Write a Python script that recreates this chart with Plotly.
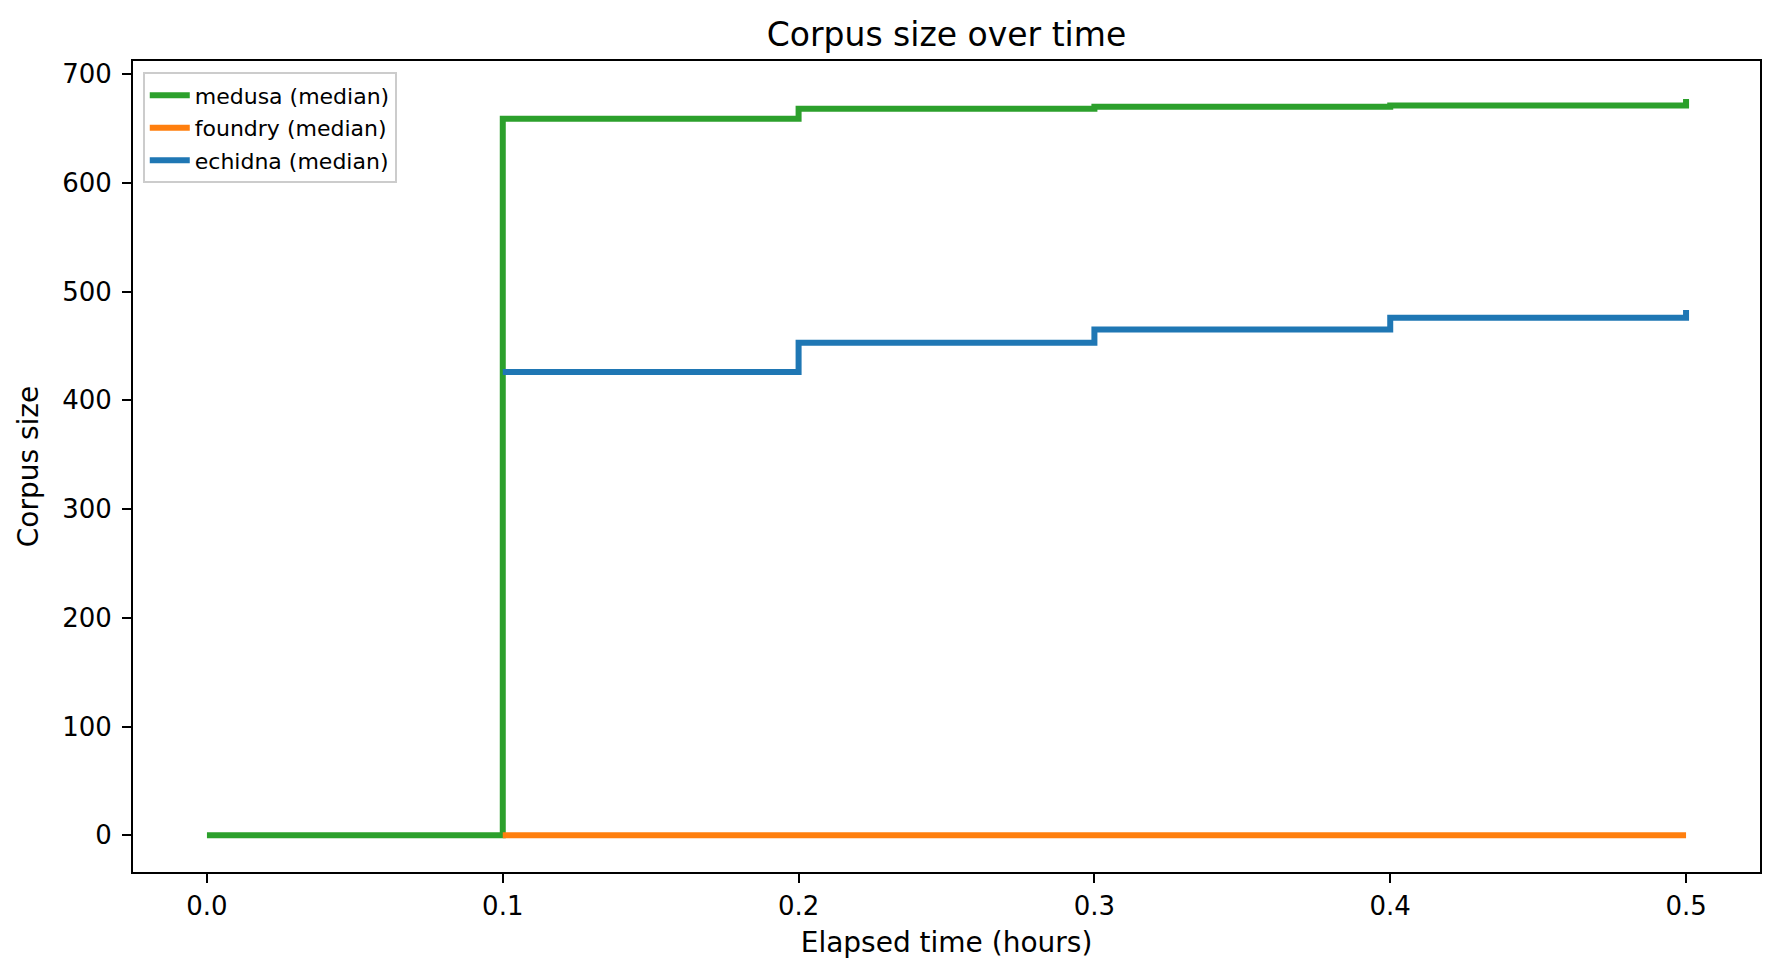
import plotly.graph_objects as go

# elapsed time in hours, corpus size (median per fuzzer)
medusa_hours = [0.0, 0.1, 0.2, 0.3, 0.4, 0.5]
medusa_corpus = [0, 659, 668, 670, 671, 677]

foundry_hours = [0.1, 0.2, 0.3, 0.4, 0.5]
foundry_corpus = [0, 0, 0, 0, 0]

echidna_hours = [0.1, 0.2, 0.3, 0.4, 0.5]
echidna_corpus = [426, 453, 465, 476, 483]

x_ticks = [0.0, 0.1, 0.2, 0.3, 0.4, 0.5]
y_ticks = [0, 100, 200, 300, 400, 500, 600, 700]

W, H = 1779, 978
font = "DejaVu Sans"

fig = go.Figure()
fig.add_trace(go.Scatter(x=medusa_hours, y=medusa_corpus, name='medusa (median)', mode='lines',
                         legendgroup='medusa',
                         line=dict(color='#2ca02c', width=6, shape='hv')))
fig.add_trace(go.Scatter(x=foundry_hours, y=foundry_corpus, name='foundry (median)', mode='lines',
                         legendgroup='foundry',
                         line=dict(color='#ff7f0e', width=6, shape='hv')))
fig.add_trace(go.Scatter(x=echidna_hours, y=echidna_corpus, name='echidna (median)', mode='lines',
                         legendgroup='echidna',
                         line=dict(color='#1f77b4', width=6, shape='hv')))

fig.update_layout(
    width=W, height=H,
    margin=dict(l=125, r=27, t=53, b=114),
    plot_bgcolor='white', paper_bgcolor='white',
    font=dict(family=font, size=26, color='black'),
    title=dict(text='Corpus size over time', x=0.5, xref='paper', xanchor='center',
               y=1 - 26 / H, yanchor='middle', font=dict(size=33)),
    showlegend=True,
    legend=dict(x=0.006, y=0.986, xanchor='left', yanchor='top',
                bgcolor='rgba(255,255,255,0.8)', bordercolor='#cccccc', borderwidth=2,
                font=dict(size=22), tracegroupgap=1, itemwidth=40),
)
fig.update_xaxes(
    range=[-0.025, 0.525], tickvals=x_ticks, tickformat='.1f',
    tickfont=dict(size=26),
    showline=True, mirror=True, linecolor='black', linewidth=2,
    ticks='outside', ticklen=9, tickwidth=2, tickcolor='black', ticklabelstandoff=1,
    showgrid=False, zeroline=False,
    title=dict(text='Elapsed time (hours)', font=dict(size=28), standoff=12),
)
fig.update_yaxes(
    range=[-33.8, 712], tickvals=y_ticks,
    tickfont=dict(size=26),
    showline=True, mirror=True, linecolor='black', linewidth=2,
    ticks='outside', ticklen=9, tickwidth=2, tickcolor='black', ticklabelstandoff=5,
    showgrid=False, zeroline=False,
    title=dict(text='Corpus size', font=dict(size=28), standoff=15),
)

fig.write_html("out.html")
